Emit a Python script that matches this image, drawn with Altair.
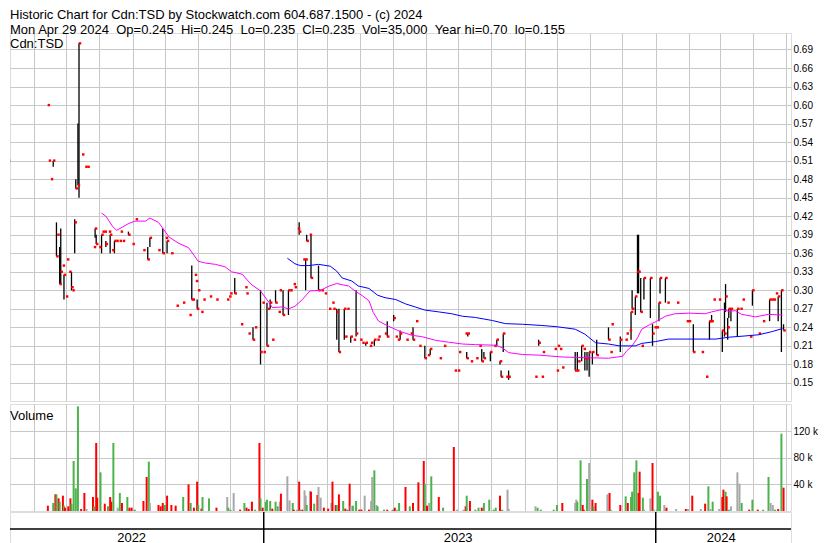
import altair as alt
import pandas as pd

FONT = "Liberation Sans"
BASE = pd.Timestamp("2022-05-01")   # day offsets below count from this date

# ---------------- price bars (day offset, high, low, close) ----------------
p_day = [3, 5, 7, 44, 45, 47, 49, 52, 53, 55, 56, 58, 59, 61, 62, 64, 66, 67, 69, 70,
         72, 73, 76, 79, 81, 87, 88, 89, 92, 94, 95, 97, 98, 101, 102, 104, 106, 108, 111, 112,
         114, 119, 123, 126, 133, 137, 139, 147, 151, 154, 155, 159, 164, 170, 176, 178, 179, 181, 182, 183,
         184, 187, 189, 195, 201, 211, 213, 214, 218, 224, 228, 229, 231, 235, 237, 242, 244, 245, 248, 249,
         251, 253, 256, 259, 260, 263, 268, 270, 273, 274, 277, 278, 282, 284, 285, 288, 289, 296, 299, 302,
         306, 309, 310, 313, 315, 320, 321, 323, 326, 329, 331, 335, 337, 340, 344, 345, 348, 351, 352, 358,
         360, 366, 368, 370, 372, 378, 382, 384, 387, 390, 395, 398, 400, 409, 413, 423, 426, 427, 433, 434,
         435, 438, 443, 446, 448, 450, 456, 460, 462, 465, 466, 468, 471, 473, 498, 501, 504, 505, 516, 518,
         519, 521, 523, 535, 537, 538, 541, 543, 544, 546, 548, 551, 555, 566, 568, 569, 577, 582, 583, 586,
         587, 588, 591, 593, 594, 596, 597, 599, 605, 607, 609, 611, 613, 614, 619, 621, 630, 639, 641, 645,
         653, 657, 660, 661, 662, 664, 669, 672, 674, 675, 677, 678, 680, 686, 689, 691, 698, 700, 706, 710,
         716, 718, 720, 722, 724, 727, 729]
p_hi = [.415, .54, .52, .60, .51, .48, .51, .41, .39, .37, .40, .34, .325, .29, .35, .33, .33, .30, .415, .48,
        .57, .70, .52, .50, .50, .37, .40, .39, .37, .39, .395, .395, .38, .395, .39, .365, .38, .38, .38, .395,
        .38, .395, .375, .415, .365, .37, .385, .365, .40, .385, .38, .36, .275, .28, .26, .34, .285, .325, .315, .285,
        .30, .265, .285, .29, .285, .285, .29, .295, .32, .245, .305, .295, .23, .24, .24, .30, .28, .20, .28, .27,
        .285, .22, .30, .265, .30, .30, .30, .30, .31, .305, .40, .41, .35, .35, .39, .39, .39, .34, .30, .295,
        .27, .28, .27, .27, .27, .27, .225, .27, .225, .22, .30, .22, .215, .215, .21, .215, .22, .22, .225, .23,
        .25, .26, .225, .22, .235, .22, .23, .24, .25, .21, .21, .195, .205, .19, .21, .17, .17, .20, .23, .20,
        .23, .185, .19, .21, .205, .20, .20, .21, .22, .185, .17, .23, .16, .17, .16, .22, .16, .20, .205, .17,
        .21, .205, .175, .20, .20, .185, .21, .205, .20, .20, .20, .20, .22, .24, .20, .245, .225, .22, .23, .235,
        .265, .30, .29, .39, .39, .32, .21, .32, .32, .245, .24, .24, .28, .32, .32, .28, .28, .25, .25, .245,
        .20, .16, .25, .25, .26, .285, .285, .235, .28, .31, .255, .27, .27, .27, .27, .285, .225, .30, .23, .25,
        .285, .285, .285, .295, .29, .30, .245]
p_lo = [.415, .50, .51, .60, .51, .48, .50, .355, .39, .31, .31, .34, .285, .29, .35, .33, .30, .30, .36, .465,
        .47, .45, .52, .50, .50, .37, .385, .375, .37, .36, .395, .395, .37, .395, .36, .365, .36, .38, .38, .395,
        .38, .39, .375, .415, .365, .35, .37, .365, .36, .385, .36, .36, .275, .28, .26, .285, .285, .325, .315, .27,
        .30, .265, .285, .29, .285, .285, .29, .295, .295, .245, .305, .295, .23, .22, .24, .18, .28, .20, .21, .27,
        .27, .22, .28, .265, .30, .26, .26, .30, .31, .305, .40, .39, .35, .30, .38, .39, .32, .30, .30, .295,
        .27, .28, .27, .22, .20, .22, .225, .27, .215, .22, .225, .22, .215, .21, .21, .215, .21, .22, .225, .23,
        .225, .25, .225, .22, .22, .22, .23, .22, .25, .21, .19, .195, .195, .19, .21, .17, .17, .20, .23, .19,
        .225, .185, .19, .21, .185, .19, .185, .21, .21, .18, .16, .20, .16, .155, .16, .21, .16, .20, .205, .17,
        .21, .205, .175, .17, .17, .185, .185, .205, .17, .17, .16, .18, .195, .22, .20, .245, .20, .22, .23, .235,
        .22, .27, .26, .295, .295, .265, .21, .285, .255, .21, .24, .24, .25, .295, .28, .28, .28, .25, .25, .20,
        .20, .16, .22, .25, .25, .285, .285, .20, .225, .265, .22, .255, .25, .225, .27, .285, .225, .275, .23, .25,
        .25, .285, .285, .295, .25, .20, .235]
p_cl = [.415, .50, .51, .60, .51, .48, .51, .355, .39, .31, .33, .34, .325, .29, .35, .33, .305, .30, .41, .465,
        .47, .70, .52, .50, .50, .37, .40, .375, .37, .39, .395, .395, .375, .395, .39, .365, .38, .38, .38, .395,
        .38, .39, .375, .415, .365, .35, .385, .365, .36, .385, .38, .36, .275, .28, .26, .285, .285, .325, .315, .27,
        .30, .265, .285, .29, .285, .285, .29, .295, .295, .245, .305, .295, .23, .22, .24, .20, .28, .20, .21, .27,
        .28, .22, .28, .265, .30, .26, .30, .30, .31, .305, .40, .395, .35, .35, .38, .39, .32, .30, .30, .295,
        .27, .28, .27, .265, .20, .27, .225, .27, .225, .22, .23, .22, .215, .215, .21, .215, .22, .22, .225, .23,
        .225, .255, .225, .22, .23, .22, .23, .22, .25, .21, .19, .195, .205, .19, .21, .17, .17, .20, .23, .19,
        .23, .185, .19, .21, .185, .19, .20, .21, .22, .185, .16, .23, .16, .16, .16, .215, .16, .20, .205, .17,
        .21, .205, .175, .17, .17, .185, .21, .205, .19, .19, .20, .20, .195, .22, .20, .245, .22, .22, .23, .235,
        .265, .27, .29, .33, .33, .265, .21, .32, .32, .23, .24, .24, .28, .32, .32, .28, .28, .25, .25, .20,
        .20, .16, .25, .25, .25, .285, .285, .235, .23, .29, .24, .27, .27, .27, .27, .285, .225, .30, .23, .25,
        .285, .285, .285, .295, .29, .30, .235]

# ---------------- moving averages ----------------
ma_short_day = [94, 98, 104, 108, 111, 119, 125, 135, 139, 147, 157, 166, 175, 184, 191, 200, 209, 215, 225, 233,
                242, 250, 253, 262, 268, 274, 281, 288, 298, 306, 313, 318, 324, 330, 337, 343, 347, 352, 361, 371,
                383, 392, 405, 417, 430, 442, 461, 467, 473, 486, 501, 523, 541, 566, 579, 583, 588, 593, 597, 604,
                611, 619, 628, 641, 656, 662, 672, 678, 684, 690, 703, 715, 728]
ma_short_val = [.425, .42, .404, .397, .40, .408, .412, .412, .417, .41, .386, .376, .369, .347, .344, .342, .338, .33, .326, .31,
                .299, .28, .272, .273, .27, .274, .285, .299, .30, .307, .311, .309, .307, .299, .291, .283, .264, .25, .242, .234,
                .227, .225, .219, .216, .213, .212, .211, .207, .199, .196, .195, .192, .191, .19, .193, .202, .21, .223, .237, .244,
                .25, .258, .262, .263, .262, .265, .269, .266, .267, .261, .257, .261, .26]
ma_long_day = [267, 274, 279, 287, 296, 307, 313, 318, 327, 333, 343, 351, 358, 368, 377, 386, 395, 408, 420, 430,
               442, 458, 470, 486, 504, 518, 535, 544, 554, 566, 576, 591, 597, 610, 622, 641, 666, 678, 693, 706,
               718, 728]
ma_long_val = [.352, .343, .34, .34, .342, .339, .331, .32, .315, .307, .303, .292, .288, .285, .278, .273, .268, .265, .262, .258,
               .256, .251, .246, .245, .243, .241, .237, .229, .215, .213, .21, .21, .214, .217, .221, .221, .221, .224, .226, .228,
               .233, .238]

# ---------------- volume (day offset, thousands of shares, direction) ----------------
v_day = [2, 4, 7, 44, 49, 51, 52, 54, 55, 58, 59, 60, 63, 65, 66, 68, 70, 72, 75, 78,
         80, 86, 87, 89, 90, 93, 97, 100, 102, 103, 105, 109, 111, 113, 118, 120, 122, 125, 133, 136,
         138, 139, 147, 149, 151, 153, 155, 159, 163, 170, 175, 177, 180, 183, 184, 187, 188, 194, 201, 211,
         212, 214, 217, 223, 227, 229, 231, 234, 237, 241, 242, 244, 247, 248, 251, 253, 256, 258, 260, 261,
         267, 269, 272, 273, 276, 278, 279, 281, 283, 284, 285, 288, 289, 292, 295, 296, 298, 301, 305, 308,
         309, 312, 313, 315, 319, 321, 323, 325, 326, 328, 331, 334, 336, 339, 343, 345, 346, 348, 350, 351,
         357, 360, 365, 367, 369, 371, 377, 381, 384, 389, 394, 395, 397, 399, 401, 408, 412, 422, 425, 431,
         433, 434, 437, 442, 445, 448, 450, 455, 459, 461, 465, 467, 472, 473, 498, 500, 503, 515, 518, 523,
         535, 536, 537, 540, 542, 543, 546, 548, 551, 552, 554, 565, 567, 568, 577, 582, 584, 587, 588, 590,
         592, 594, 595, 598, 599, 605, 607, 608, 611, 612, 614, 618, 620, 629, 638, 640, 644, 652, 656, 659,
         661, 663, 669, 672, 673, 675, 676, 678, 680, 686, 688, 690, 697, 700, 705, 710, 715, 717, 719, 721,
         724, 727, 729]
v_vol = [12, 12, 21, 8, 12, 25, 25, 19, 14, 23, 8, 5, 7, 19, 11, 75, 34, 157, 3, 27,
         3, 21, 7, 102, 20, 58, 11, 7, 21, 14, 102, 5, 27, 12, 21, 5, 5, 2, 15, 51,
         74, 12, 9, 7, 12, 9, 23, 9, 8, 21, 40, 12, 5, 44, 9, 3.5, 21, 19, 5, 21,
         5, 2, 27, 2, 12, 5, 3, 14, 2, 102, 19, 5, 14, 17, 15, 3.5, 14, 7, 14, 26,
         52, 16, 12, 2, 2, 44, 2, 2, 31, 23, 9, 30, 29, 11, 24, 36, 20, 5, 3.5, 12,
         44, 9, 9, 25, 15, 3.5, 2, 41, 8, 8, 15, 2, 2, 23, 2, 15, 51, 61, 9, 7,
         2, 2, 2, 5, 2, 12, 36, 7, 12, 43, 75, 41, 8, 12, 52, 21, 5, 96, 2, 2,
         7, 23, 15, 2, 5, 5, 12, 17, 2, 5, 23, 2, 32, 3, 7, 5, 2, 2, 9, 12,
         12, 17, 14, 76, 9, 2, 48, 72, 17, 7, 12, 25, 27, 2, 9, 22, 12, 21, 29, 58,
         76, 27, 59, 20, 2, 19, 72, 2, 2, 29, 23, 9, 5, 3, 3, 3, 23, 3, 11, 37,
         3, 14, 3, 21, 32, 29, 22, 2, 7, 58, 41, 12, 2, 17, 2, 2, 51, 12, 9, 2,
         3, 116, 35]
v_dir = ["f", "u", "u", "d", "u", "d", "u", "d", "u", "d", "u", "d", "d", "d", "u", "u", "u", "u", "d", "d",
         "f", "d", "u", "d", "d", "u", "d", "u", "d", "d", "u", "f", "u", "d", "u", "d", "d", "u", "d", "d",
         "u", "f", "d", "d", "d", "u", "d", "d", "d", "u", "d", "u", "d", "d", "u", "d", "u", "u", "d", "f",
         "u", "u", "f", "d", "u", "d", "d", "d", "u", "d", "u", "d", "u", "u", "u", "d", "u", "u", "f", "d",
         "f", "f", "u", "d", "f", "d", "u", "d", "f", "f", "u", "f", "d", "u", "d", "f", "f", "d", "d", "f",
         "d", "d", "u", "d", "u", "d", "u", "d", "f", "u", "u", "d", "d", "f", "d", "f", "f", "u", "f", "u",
         "u", "d", "u", "d", "f", "u", "d", "u", "d", "d", "d", "u", "d", "f", "u", "d", "u", "d", "f", "f",
         "d", "u", "d", "u", "u", "d", "u", "u", "u", "u", "d", "u", "f", "f", "f", "u", "u", "u", "u", "d",
         "f", "f", "u", "u", "d", "d", "u", "f", "d", "u", "d", "f", "d", "u", "d", "u", "d", "u", "u", "u",
         "u", "d", "d", "u", "f", "f", "d", "u", "f", "u", "u", "f", "d", "f", "d", "f", "d", "f", "d", "u",
         "f", "u", "f", "d", "d", "u", "d", "u", "f", "f", "f", "u", "d", "u", "d", "u", "u", "f", "f", "u",
         "d", "u", "d"]

# ---------------- axis / text values ----------------
price_ticks = [0.15, 0.18, 0.21, 0.24, 0.27, 0.30, 0.33, 0.36, 0.39, 0.42, 0.45, 0.48,
               0.51, 0.54, 0.57, 0.60, 0.63, 0.66, 0.69]
vol_ticks = [40000, 80000, 120000]
year_labels = ["2022", "2023", "2024"]
year_label_dates = ["2022-08-31", "2023-07-01", "2024-03-02"]
year_bounds = ["2023-01-01", "2024-01-01"]
title_line1 = "Historic Chart for Cdn:TSD by Stockwatch.com 604.687.1500 - (c) 2024"
title_line2 = ("Mon Apr 29 2024\u00a0\u00a0Op=0.245\u00a0\u00a0Hi=0.245\u00a0\u00a0Lo=0.235\u00a0\u00a0Cl=0.235"
               "\u00a0\u00a0Vol=35,000\u00a0\u00a0Year hi=0.70\u00a0\u00a0lo=0.155")

GREEN, RED, GRAY, GRID = "#4cb34c", "#ff0000", "#a8a8a8", "#c8c8c8"


def to_date(days):
    return [(BASE + pd.Timedelta(days=int(d))).strftime("%Y-%m-%d") for d in days]


price_df = pd.DataFrame({"date": to_date(p_day), "hi": p_hi, "lo": p_lo, "cl": p_cl})
bar_df = price_df[price_df["hi"] > price_df["lo"]]
mas_df = pd.DataFrame({"date": to_date(ma_short_day), "val": ma_short_val})
mal_df = pd.DataFrame({"date": to_date(ma_long_day), "val": ma_long_val})
vol_df = pd.DataFrame({"date": to_date(v_day), "vol": [v * 1000 for v in v_vol],
                       "dir": v_dir})
vol_df["zero"] = 0
one = pd.DataFrame({"k": [0]})

month_vals = [alt.DateTime(year=t.year, month=t.month, date=1, utc=True)
              for t in pd.date_range("2022-06-01", "2024-05-01", freq="MS")]

x_scale = alt.Scale(type="utc", domain=[
    alt.DateTime(year=2022, month=5, date=9, hours=18, utc=True),
    alt.DateTime(year=2024, month=5, date=5, hours=22, minutes=30, utc=True)])
x_axis = alt.Axis(values=month_vals, grid=True, gridColor=GRID, gridWidth=1,
                  labels=False, ticks=False, domain=False, title=None)
X = alt.X("date:T", scale=x_scale, axis=x_axis)

p_scale = alt.Scale(domain=[0.1207, 0.7167], nice=False, zero=False)
p_axis = alt.Axis(orient="right", values=price_ticks, format=".2f", grid=True, gridColor=GRID,
                  ticks=False, domain=False, labelPadding=2, title=None)

W = 781


def label(txt, y, size=13):
    return alt.Chart(one).mark_text(text=txt, align="left", baseline="alphabetic",
                                    fontSize=size, font=FONT, color="black").encode(
        x=alt.value(0), y=alt.value(y))


bars = alt.Chart(bar_df).mark_rule(color="black", strokeWidth=1.3, clip=True).encode(
    x=X, y=alt.Y("lo:Q", scale=p_scale, axis=p_axis), y2="hi:Q")
closes = alt.Chart(price_df).mark_square(color=RED, size=6, opacity=1, xOffset=1, clip=True).encode(
    x=X, y=alt.Y("cl:Q", scale=p_scale, axis=p_axis))
ma_s = alt.Chart(mas_df).mark_line(color="#ff00ff", strokeWidth=1, clip=True).encode(
    x=X, y=alt.Y("val:Q", scale=p_scale, axis=p_axis))
ma_l = alt.Chart(mal_df).mark_line(color="#0000ff", strokeWidth=1, clip=True).encode(
    x=X, y=alt.Y("val:Q", scale=p_scale, axis=p_axis))

price = alt.layer(bars, closes, ma_s, ma_l,
                  label(title_line1, -14, 13), label(title_line2, 0.6, 13),
                  label("Cdn:TSD", 15)).properties(width=W, height=368)

v_scale = alt.Scale(domain=[0, 160500], nice=False, zero=False)
v_axis = alt.Axis(orient="right", values=vol_ticks, grid=True, gridColor=GRID, ticks=False,
                  domain=False, labelPadding=2, title=None,
                  labelExpr="format(datum.value / 1000, 'd') + ' k'")
vbars = alt.Chart(vol_df).mark_rule(strokeWidth=2, clip=True).encode(
    x=X, y=alt.Y("vol:Q", scale=v_scale, axis=v_axis), y2="zero:Q",
    color=alt.Color("dir:N", scale=alt.Scale(domain=["u", "d", "f"], range=[GREEN, RED, GRAY]),
                    legend=None))
volume = alt.layer(vbars, label("Volume", 16)).properties(width=W, height=107)

Xd = alt.X("date:T", scale=x_scale, axis=None)
ybound = alt.Chart(pd.DataFrame({"date": year_bounds})).mark_rule(
    color="black", strokeWidth=1.5).encode(x=Xd)
midline = alt.Chart(one).mark_rule(color="black", strokeWidth=1.5).encode(y=alt.value(17))
ylab = alt.Chart(pd.DataFrame({"date": year_label_dates, "label": year_labels})).mark_text(
    align="center", baseline="alphabetic", fontSize=13, font=FONT, color="black").encode(
    x=Xd, y=alt.value(29.5), text="label:N")
dates = alt.layer(ybound, midline, ylab).properties(width=W, height=31)

chart = alt.vconcat(price, alt.vconcat(volume, dates, spacing=-2), spacing=1).properties(
    padding={"left": 0, "top": 0, "right": 0, "bottom": 0}, background="white"
).configure_view(stroke="black", strokeWidth=2).configure_axis(
    labelFont=FONT, labelFontSize=13, labelColor="black").configure(font=FONT)

chart.save("out.html", embed_options={"renderer": "svg", "actions": False})
